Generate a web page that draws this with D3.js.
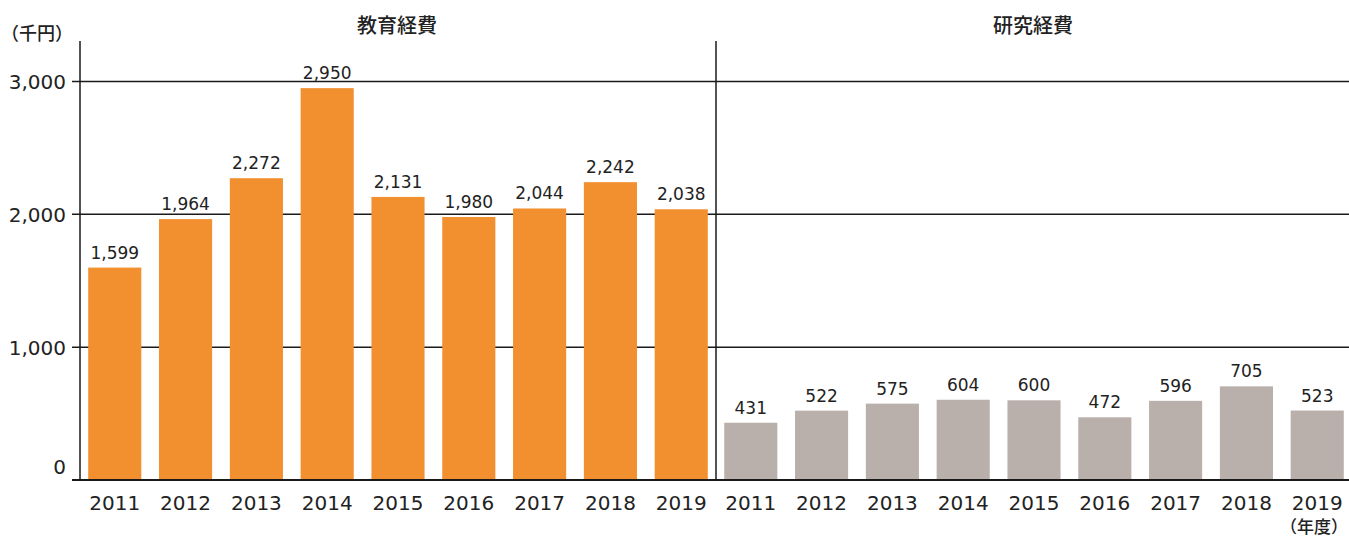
<!DOCTYPE html>
<html lang="ja">
<head>
<meta charset="utf-8">
<script src="https://cdn.jsdelivr.net/npm/d3@7"></script>
<style>
  html, body { margin: 0; padding: 0; background: #fff; }
  svg { display: block; }
  .num { font-family: "DejaVu Sans", sans-serif; fill: #222; }
  .jp { font-family: "Noto Sans CJK JP", sans-serif; fill: #222; }
</style>
</head>
<body>
<svg id="chart" width="1349" height="539"></svg>
<script>
// Fiscal years shown in each panel
const years = ["2011", "2012", "2013", "2014", "2015", "2016", "2017", "2018", "2019"];
// 教育経費 (thousand yen)
const educationCost = [1599, 1964, 2272, 2950, 2131, 1980, 2044, 2242, 2038];
// 研究経費 (thousand yen)
const researchCost = [431, 522, 575, 604, 600, 472, 596, 705, 523];
// Value axis ticks
const yTicks = [0, 1000, 2000, 3000];
const panelTitles = ["教育経費", "研究経費"];
const unitLabel = "（千円）";
const yearUnitLabel = "（年度）";

const W = 1349, H = 539;
const leftX = 80, midX = 716, rightX = 1352;
const topY = 41, baseY = 480;
const fmt = d3.format(",");

const svg = d3.select("#chart");

const y = d3.scaleLinear().domain([0, 3000]).range([baseY, 81.5]);

const panels = [
  { title: panelTitles[0], values: educationCost, color: "#F28F2E",
    x: d3.scaleBand().domain(years).range([leftX, midX]).paddingInner(0.25).paddingOuter(0.116) },
  { title: panelTitles[1], values: researchCost, color: "#B9B0AB",
    x: d3.scaleBand().domain(years).range([midX, rightX]).paddingInner(0.25).paddingOuter(0.116) }
];

// Horizontal gridlines spanning both panels
svg.append("g")
  .selectAll("line")
  .data(yTicks)
  .join("line")
  .attr("x1", 72).attr("x2", W)
  .attr("y1", d => y(d)).attr("y2", d => y(d))
  .attr("stroke", "#1a1a1a")
  .attr("stroke-width", d => d === 0 ? 2 : 1.5);

// Bars and value labels
panels.forEach(p => {
  const g = svg.append("g");
  const rows = years.map((yr, i) => ({ yr, v: p.values[i] }));
  g.selectAll("rect")
    .data(rows)
    .join("rect")
    .attr("x", d => p.x(d.yr))
    .attr("width", p.x.bandwidth())
    .attr("y", d => y(d.v))
    .attr("height", d => baseY - y(d.v))
    .attr("fill", p.color);

  g.selectAll("text.val")
    .data(rows)
    .join("text")
    .attr("class", "val num")
    .attr("x", d => p.x(d.yr) + p.x.bandwidth() / 2)
    .attr("y", d => y(d.v) - 9)
    .attr("text-anchor", "middle")
    .attr("font-size", 17)
    .text(d => fmt(d.v));

  // Year labels under the bars
  const ax = svg.append("g")
    .attr("transform", `translate(0,${baseY})`)
    .call(d3.axisBottom(p.x).tickSize(0).tickPadding(16));
  ax.select(".domain").remove();
  ax.selectAll("text")
    .attr("class", "num")
    .attr("font-size", 20)
    .attr("fill", "#222");

  // Panel title
  const [r0, r1] = p.x.range();
  svg.append("text")
    .attr("class", "jp")
    .attr("x", (r0 + r1) / 2 - 1)
    .attr("y", 33)
    .attr("text-anchor", "middle")
    .attr("font-size", 20)
    .attr("font-weight", 500)
    .text(p.title);
});

// Baseline over bar bottoms
svg.append("line")
  .attr("x1", 72).attr("x2", W)
  .attr("y1", y(0)).attr("y2", y(0))
  .attr("stroke", "#1a1a1a").attr("stroke-width", 2);

// Value axis line and panel divider
[leftX, midX].forEach(xv => {
  svg.append("line")
    .attr("x1", xv).attr("x2", xv)
    .attr("y1", topY).attr("y2", baseY)
    .attr("stroke", "#1a1a1a").attr("stroke-width", 1.5);
});

// Value axis labels
const yAxis = svg.append("g")
  .attr("transform", `translate(${leftX},0)`)
  .call(d3.axisLeft(y).tickValues(yTicks).tickFormat(fmt).tickSize(0).tickPadding(14));
yAxis.select(".domain").remove();
yAxis.selectAll("text")
  .attr("class", "num")
  .attr("font-size", 20)
  .attr("fill", "#222")
  .attr("dy", d => d === 0 ? "-0.35em" : "0.35em");

// Unit labels
svg.append("text")
  .attr("class", "jp")
  .attr("x", 1).attr("y", 40)
  .attr("font-size", 18)
  .attr("font-weight", 500)
  .text(unitLabel);

svg.append("text")
  .attr("class", "jp")
  .attr("x", 1348).attr("y", 533)
  .attr("text-anchor", "end")
  .attr("font-size", 17)
  .attr("font-weight", 500)
  .text(yearUnitLabel);
</script>
</body>
</html>
